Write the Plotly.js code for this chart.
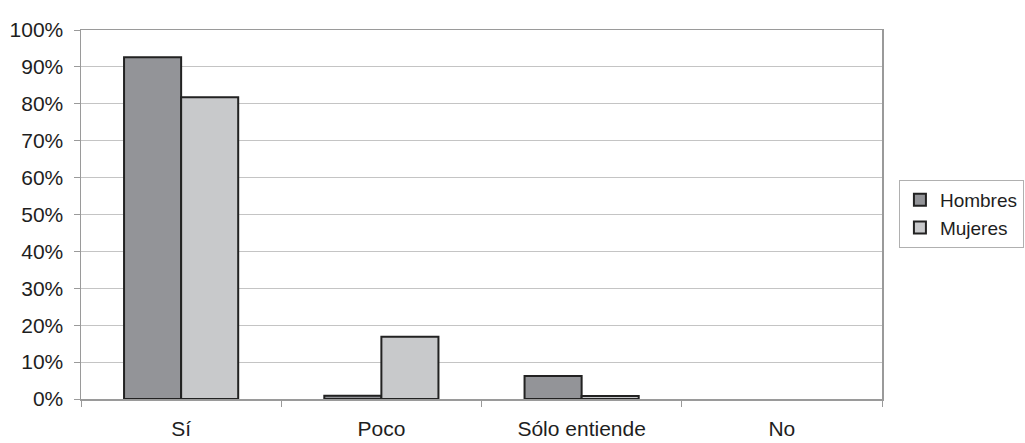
<!DOCTYPE html>
<html>
<head>
<meta charset="utf-8">
<script src="https://cdn.plot.ly/plotly-3.0.1.min.js"></script>
<style>body{margin:0;background:#fff}#chart{width:1025px;height:443px}</style>
</head>
<body>
<div id="chart"></div>
<script>
const categories = ["Sí", "Poco", "Sólo entiende", "No"];
const hombres = [0.926, 0.009, 0.062, 0];
const mujeres = [0.818, 0.169, 0.008, 0];
const seriesNames = ["Hombres", "Mujeres"];

function outlineWidths(vals) { return vals.map(v => v > 0 ? 2 : 0); }

const traces = [
  {type: "bar", name: seriesNames[0], x: categories, y: hombres,
   marker: {color: "#939498", line: {color: "#222222", width: outlineWidths(hombres)}}},
  {type: "bar", name: seriesNames[1], x: categories, y: mujeres,
   marker: {color: "#c8c9cb", line: {color: "#222222", width: outlineWidths(mujeres)}}}
];

const layout = {
  width: 1025, height: 443,
  margin: {l: 81, r: 143, t: 30, b: 44, autoexpand: false},
  paper_bgcolor: "#ffffff", plot_bgcolor: "#ffffff",
  font: {family: "Liberation Sans, Arial, sans-serif", size: 21, color: "#1e1e1e"},
  barmode: "group", bargap: 0.43, bargroupgap: 0,
  showlegend: true,
  legend: {xref: "container", yref: "container", x: 0.877, xanchor: "left",
    y: 0.517, yanchor: "middle",
    bordercolor: "#b0b0b0", borderwidth: 1, font: {size: 19},
    itemwidth: 30, tracegroupgap: 0},
  xaxis: {type: "category", showline: true, linecolor: "#9a9a9a", linewidth: 1.5,
    mirror: true, ticks: "outside", tickson: "boundaries", ticklen: 6,
    tickcolor: "#9a9a9a", showgrid: false, ticklabelstandoff: 10, fixedrange: true,
    tickfont: {size: 21}},
  yaxis: {range: [0, 1], dtick: 0.1, tickformat: ".0%", showline: true,
    linecolor: "#9a9a9a", linewidth: 1.5, mirror: true, ticks: "outside", ticklen: 6,
    tickcolor: "#9a9a9a", showgrid: true, gridcolor: "#c4c4c4", gridwidth: 1,
    zeroline: false, ticklabelstandoff: 6, fixedrange: true, tickfont: {size: 21}}
};

Plotly.newPlot("chart", traces, layout, {staticPlot: true});
</script>
</body>
</html>
